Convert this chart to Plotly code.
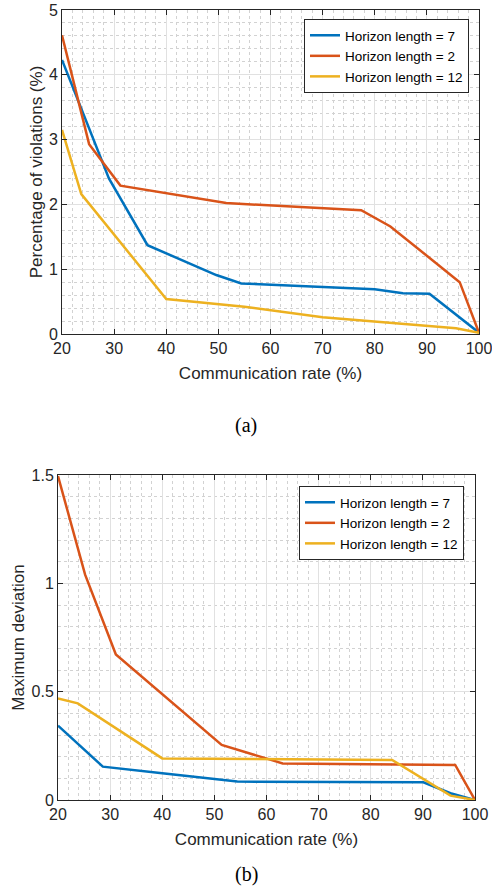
import plotly.graph_objects as go

# ---- data (a) percentage of violations ----
rate_a_h7 = [20, 29.0, 36.4, 49.6, 54.4, 80, 85.4, 90.5, 100]
viol_h7 = [4.23, 2.40, 1.37, 0.91, 0.78, 0.69, 0.63, 0.62, 0.02]
rate_a_h2 = [20, 25.2, 31.2, 51.5, 77.4, 83, 96.3, 100]
viol_h2 = [4.61, 2.93, 2.29, 2.02, 1.91, 1.66, 0.80, 0.02]
rate_a_h12 = [20, 23.7, 40, 55, 70, 95.6, 100]
viol_h12 = [3.15, 2.16, 0.54, 0.42, 0.26, 0.09, 0.02]

# ---- data (b) maximum deviation ----
rate_b_h7 = [20, 28.6, 40, 54.4, 90.1, 95.3, 100]
dev_h7 = [0.343, 0.154, 0.123, 0.085, 0.082, 0.031, 0.0]
rate_b_h2 = [20, 25.2, 31.1, 40, 51.4, 63.1, 96.2, 100]
dev_h2 = [1.495, 1.04, 0.672, 0.49, 0.254, 0.169, 0.162, 0.0]
rate_b_h12 = [20, 23.8, 40, 84.1, 95.3, 100]
dev_h12 = [0.469, 0.446, 0.192, 0.185, 0.02, 0.0]

names = ["Horizon length = 7", "Horizon length = 2", "Horizon length = 12"]
colors = ["#0072BD", "#D95319", "#EDB120"]
x_ticks = [20, 30, 40, 50, 60, 70, 80, 90, 100]
ya_ticks = [0, 1, 2, 3, 4, 5]
yb_ticks = [0, 0.5, 1, 1.5]
yb_labels = ["0", "0.5", "1", "1.5"]

W, H = 492, 886
fig = go.Figure()

for xs, ys, nm, c in zip([rate_a_h7, rate_a_h2, rate_a_h12],
                         [viol_h7, viol_h2, viol_h12], names, colors):
    fig.add_trace(go.Scatter(x=xs, y=ys, mode="lines", name=nm,
                             line=dict(color=c, width=2.5),
                             xaxis="x", yaxis="y", legend="legend"))
for xs, ys, nm, c in zip([rate_b_h7, rate_b_h2, rate_b_h12],
                         [dev_h7, dev_h2, dev_h12], names, colors):
    fig.add_trace(go.Scatter(x=xs, y=ys, mode="lines", name=nm,
                             line=dict(color=c, width=2.5),
                             xaxis="x2", yaxis="y2", legend="legend2"))

font_fam = "Liberation Sans"
axcol = "#262626"
common = dict(
    automargin=False,
    showline=True, linecolor=axcol, linewidth=1, mirror="ticks",
    ticks="inside", ticklen=5, tickcolor=axcol, tickwidth=1,
    showgrid=True, gridcolor="#e1e1e1", gridwidth=1,
    zeroline=False, ticklabeloverflow="allow",
    tickfont=dict(family=font_fam, size=16, color=axcol),
    title_font=dict(family=font_fam, size=17, color=axcol),
)

def xa(domain, anchor):
    d = dict(common)
    d.update(domain=domain, anchor=anchor, range=[20, 100], tickvals=x_ticks,
             minor=dict(dtick=2, tick0=20, showgrid=True, gridcolor="#d2d2d2",
                        griddash="dot", gridwidth=1),
             title=dict(text="Communication rate (%)", standoff=10))
    return d

def ya(domain, anchor, rng, tv, tt, mdt, title, so):
    d = dict(common)
    d.update(domain=domain, anchor=anchor, range=rng, tickvals=tv, ticktext=tt,
             minor=dict(dtick=mdt, tick0=0, showgrid=True, gridcolor="#d2d2d2",
                        griddash="dot", gridwidth=1),
             title=dict(text=title, standoff=so))
    return d

legend_common = dict(xanchor="right", yanchor="top",
                     bgcolor="white", bordercolor=axcol, borderwidth=1,
                     font=dict(family=font_fam, size=13.5, color="#000000"),
                     tracegroupgap=0)

cap_font = dict(family="Liberation Serif", size=20, color="black")

fig.update_layout(
    template="none",
    width=W, height=H,
    margin=dict(l=0, r=0, t=0, b=0, autoexpand=False),
    paper_bgcolor="white", plot_bgcolor="white",
    xaxis=xa([62 / W, 479 / W], "y"),
    yaxis=ya([1 - 334 / H, 1 - 10 / H], "x", [0, 5], ya_ticks,
             [str(v) for v in ya_ticks], 0.2, "Percentage of violations (%)", 1),
    xaxis2=xa([58 / W, 475 / W], "y2"),
    yaxis2=ya([1 - 800 / H, 1 - 475 / H], "x2", [0, 1.5], yb_ticks,
              yb_labels, 0.1, "Maximum deviation", 2),
    legend=dict(x=469 / W, y=1 - 19 / H, **legend_common),
    legend2=dict(x=464 / W, y=1 - 486 / H, **legend_common),
    annotations=[
        dict(text="(a)", x=0.5, y=1 - 426 / H, xref="paper", yref="paper",
             xanchor="center", yanchor="middle", showarrow=False, font=cap_font),
        dict(text="(b)", x=0.5, y=1 - 874 / H, xref="paper", yref="paper",
             xanchor="center", yanchor="middle", showarrow=False, font=cap_font),
    ],
)

fig.write_html("out.html")
